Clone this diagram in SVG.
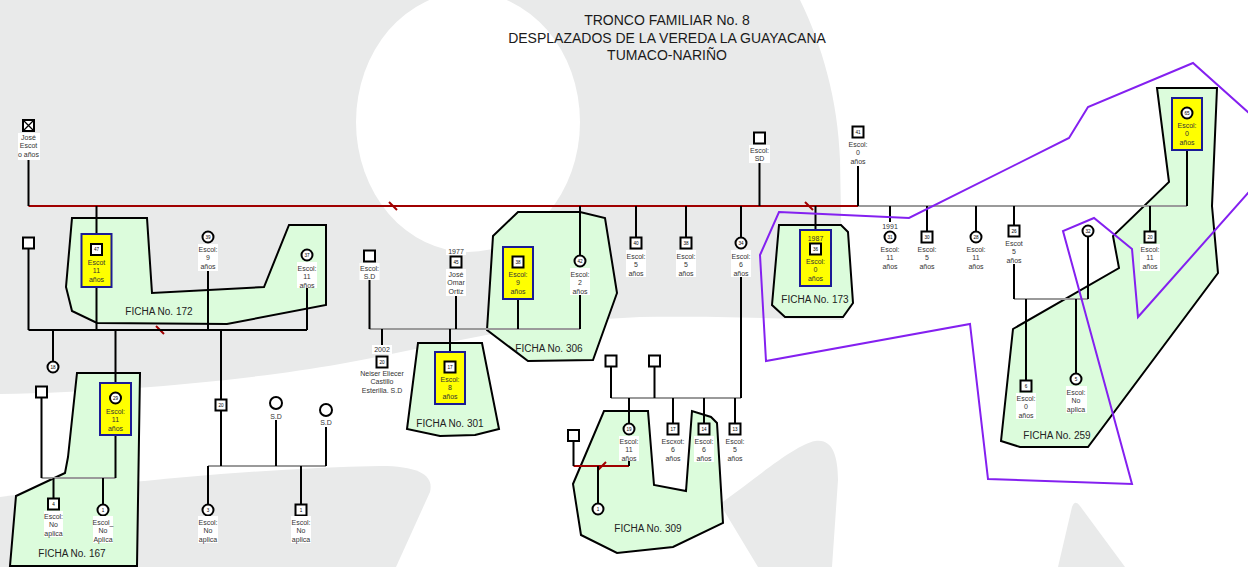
<svg xmlns="http://www.w3.org/2000/svg" width="1248" height="567" viewBox="0 0 1248 567">
<style>
text{font-family:"Liberation Sans",Arial,sans-serif}
.g{fill:#e9eaea}
.fi{fill:#dcfcdc;stroke:#000;stroke-width:2}
.ft{font-size:10px;fill:#222;text-anchor:middle}
.tt{font-size:14px;fill:#1a1a1a;text-anchor:middle}
.lb{font-size:7px;fill:#333;text-anchor:middle}
.num{font-size:4.6px;fill:#000;text-anchor:middle}
.lbg{fill:#fff}
.sq{fill:#fff;stroke:#000;stroke-width:2}
.yb{fill:#ffff00;stroke:#1b1b96;stroke-width:2}
.bl{fill:none;stroke:#000;stroke-width:2}
.gl{fill:none;stroke:#9a9a9a;stroke-width:2}
.rl{fill:none;stroke:#a00000;stroke-width:2}
.pu{fill:none;stroke:#8420f0;stroke-width:2;stroke-linejoin:miter}
</style>
<g id="background">
<rect x="0" y="0" width="1248" height="567" fill="#fff"/>
<path class="g" d="M0,0 L800,0 C822,45 838,100 840,160 L843,320 C760,318 700,316 640,317 C520,322 420,350 340,364 C250,380 120,392 0,394 Z"/>
<ellipse cx="468" cy="122" rx="112" ry="130" fill="#fff"/>
<path class="g" d="M0,497 C100,485 250,468 380,466 C420,466 434,476 430,492 L396,567 L0,567 Z"/>
<path class="g" d="M720,504 C760,475 795,445 815,441 C832,438 838,455 838,480 L832,567 L758,567 Z"/>
<path class="g" d="M1058,567 L1072,507 Q1075,499 1080,506 L1125,567 Z"/>
</g>
<g id="title">
<text class="tt" x="667" y="25">TRONCO FAMILIAR No. 8</text>
<text class="tt" x="667" y="43">DESPLAZADOS DE LA VEREDA LA GUAYACANA</text>
<text class="tt" x="667" y="60">TUMACO-NARIÑO</text>
</g>
<g id="fichas">
<g id="ficha-172"><polygon class="fi" points="72,218 147,218 152,293 264,287 289,225 326,225 326,305 227,324 97,323 72,311 66,287"/><text class="ft" x="159" y="314.5">FICHA No. 172</text></g>
<g id="ficha-167"><polygon class="fi" points="77,373 140,373 137,566 10,566 16,496 65,473 68,457"/><text class="ft" x="72" y="556.5">FICHA No. 167</text></g>
<g id="ficha-301"><polygon class="fi" points="418,343 482,343 499,429 475,435 440,436 407,429"/><text class="ft" x="450" y="426.5">FICHA No. 301</text></g>
<g id="ficha-306"><polygon class="fi" points="493,236 518,212 580,212 605,218 617,293 593,360 528,361 487,330"/><text class="ft" x="549" y="351.5">FICHA No. 306</text></g>
<g id="ficha-173"><polygon class="fi" points="779,225 841,225 848,232 853,303 843,317 785,317 772,305"/><text class="ft" x="815" y="302.5">FICHA No. 173</text></g>
<g id="ficha-309"><polygon class="fi" points="604,411 648,411 654,485 686,491 692,411 711,417 717,423 723,523 673,547 617,553 581,535 573,484"/><text class="ft" x="648" y="531.5">FICHA No. 309</text></g>
<g id="ficha-259"><polygon class="fi" points="1157,88 1217,88 1212,206 1218,273 1088,447 1020,447 1001,441 1013,329 1119,268 1113,236 1169,182"/><text class="ft" x="1057" y="438.5">FICHA No. 259</text></g>
</g>
<g id="connectors">
<path class="gl" d="M858,206H1187 M41.5,478H115.5 M208,466H326 M369.5,329H580 M1014,299H1088 M611,398H741"/>
<path class="rl" d="M28.5,206H858 M573.5,466H629"/>
<path class="rl" d="M389,202L397,210 M156,326L164,334 M805,202L813,210 M598,470L606,462"/>
<path class="bl" d="M28.5,160V206 M96.5,206V330 M28.5,248V330 M28.5,330H307 M208,271V330 M307,288V330 M53,330V362 M115.5,330V478 M221,330V466 M41.5,397V478 M53.5,478V499 M103,478V505 M276,420V466 M326,427V466 M208,466V505 M301,466V505 M369.5,280V329 M456,296V329 M518,299V329 M580,206V256 M580,295V329 M382,329V345 M450,329V352 M636,206V238 M686,206V238 M741,206V238 M741,277V398 M759.5,163V206 M858,166V206 M815.5,206V230 M890,206V222 M927,206V232 M976,206V232 M1014,206V226 M1014,264V299 M1150,206V232 M1187,150V206 M1088,236V299 M1026,299V381 M1076,299V374 M611,366V398 M654.5,366V398 M629,398V424 M629,461V466 M673,398V424 M704,398V424 M735,398V424 M573.5,441V466 M598,466V504"/>
<path class="pu" d="M779,212 L909,218 L1069,138 L1088,107 L1193,63 L1288,148 L1138,317 L1132,249 L1094,218 L1063,231 L1132,484 L988,479 L970,324 L766,361 L760,255 Z"/>
</g>
<g id="nodes">
<g id="n-jose"><rect class="sq" x="23" y="120" width="11" height="11"/><path d="M24,121L33,130M33,121L24,130" stroke="#000" stroke-width="1.3"/><rect class="lbg" x="18" y="133" width="22" height="27"/><text class="lb" x="28.5" y="139.5"><tspan x="28.5">José</tspan><tspan x="28.5" dy="8.5">Escot</tspan><tspan x="28.5" dy="8.5">o años</tspan></text></g>
<g id="n-47"><rect class="yb" x="81.5" y="234" width="30" height="53"/><rect class="sq" x="91" y="244" width="11" height="11"/><text class="num" x="96.5" y="251.2">47</text><text class="lb" x="96.5" y="264.5"><tspan x="96.5">Escot</tspan><tspan x="96.5" dy="8.5">11</tspan><tspan x="96.5" dy="8.5">años</tspan></text></g>
<g id="n-sq-a"><rect class="sq" x="23" y="237.5" width="11" height="11"/></g>
<g id="n-39"><circle class="sq" cx="208" cy="237" r="5.5"/><text class="num" x="208" y="238.7">39</text><rect class="lbg" x="198" y="244" width="20" height="27"/><text class="lb" x="208" y="251.5"><tspan x="208">Escol:</tspan><tspan x="208" dy="8.5">9</tspan><tspan x="208" dy="8.5">años</tspan></text></g>
<g id="n-37"><circle class="sq" cx="307" cy="255" r="5.5"/><text class="num" x="307" y="256.7">37</text><rect class="lbg" x="297" y="262" width="20" height="26"/><text class="lb" x="307" y="270.5"><tspan x="307">Escol:</tspan><tspan x="307" dy="8.5">11</tspan><tspan x="307" dy="8.5">años</tspan></text></g>
<g id="n-18"><circle class="sq" cx="53" cy="367" r="5.5"/><text class="num" x="53" y="368.7">18</text></g>
<g id="n-sq-b"><rect class="sq" x="36" y="386.5" width="11" height="11"/></g>
<g id="n-29"><rect class="yb" x="100" y="383" width="31" height="52"/><circle class="sq" cx="115.5" cy="398" r="5.5"/><text class="num" x="115.5" y="399.7">29</text><text class="lb" x="115.5" y="413.5"><tspan x="115.5">Escol:</tspan><tspan x="115.5" dy="8.5">11</tspan><tspan x="115.5" dy="8.5">años</tspan></text></g>
<g id="n-4"><rect class="sq" x="48" y="498.5" width="11" height="11"/><text class="num" x="53.5" y="505.7">4</text><rect class="lbg" x="44" y="511" width="19" height="26"/><text class="lb" x="53.5" y="518.5"><tspan x="53.5">Escol:</tspan><tspan x="53.5" dy="8.5">No</tspan><tspan x="53.5" dy="8.5">aplica</tspan></text></g>
<g id="n-1a"><circle class="sq" cx="103" cy="510" r="5.5"/><text class="num" x="103" y="511.7">1</text><rect class="lbg" x="93" y="516" width="20" height="27"/><text class="lb" x="103" y="524.5"><tspan x="103">Escol_</tspan><tspan x="103" dy="8.5">No</tspan><tspan x="103" dy="8.5">Aplica</tspan></text></g>
<g id="n-20a"><rect class="sq" x="215.5" y="399.5" width="11" height="11"/><text class="num" x="221" y="406.7">20</text></g>
<g id="n-sd1"><circle class="sq" cx="276" cy="403" r="6"/><rect class="lbg" x="269" y="412" width="14" height="8"/><text class="lb" x="276" y="418.5">S.D</text></g>
<g id="n-sd2"><circle class="sq" cx="326" cy="410" r="6"/><rect class="lbg" x="319" y="419" width="14" height="8"/><text class="lb" x="326" y="424.5">S.D</text></g>
<g id="n-3"><circle class="sq" cx="208" cy="510" r="5.5"/><text class="num" x="208" y="511.7">3</text><rect class="lbg" x="198" y="516" width="20" height="27"/><text class="lb" x="208" y="524.5"><tspan x="208">Escol:</tspan><tspan x="208" dy="8.5">No</tspan><tspan x="208" dy="8.5">aplica</tspan></text></g>
<g id="n-1b"><rect class="sq" x="295.5" y="504.5" width="11" height="11"/><text class="num" x="301" y="511.7">1</text><rect class="lbg" x="291" y="516" width="20" height="27"/><text class="lb" x="301" y="524.5"><tspan x="301">Escol:</tspan><tspan x="301" dy="8.5">No</tspan><tspan x="301" dy="8.5">aplica</tspan></text></g>
<g id="n-sq-c"><rect class="sq" x="364" y="250.5" width="11" height="11"/><rect class="lbg" x="359.5" y="263" width="20" height="17"/><text class="lb" x="369.5" y="270.5"><tspan x="369.5">Escol:</tspan><tspan x="369.5" dy="8.5">S.D</tspan></text></g>
<g id="n-45"><rect class="lbg" x="446" y="246" width="20" height="9"/><text class="lb" x="456" y="253.5">1977</text><rect class="sq" x="450.5" y="256.5" width="11" height="11"/><text class="num" x="456" y="263.7">45</text><rect class="lbg" x="446" y="269" width="20" height="27"/><text class="lb" x="456" y="276.5"><tspan x="456">José</tspan><tspan x="456" dy="8.5">Omar</tspan><tspan x="456" dy="8.5">Ortiz</tspan></text></g>
<g id="n-38a"><rect class="yb" x="503" y="247" width="30" height="52"/><rect class="sq" x="512.5" y="256.5" width="11" height="11"/><text class="num" x="518" y="263.7">38</text><text class="lb" x="518" y="276.5"><tspan x="518">Escol:</tspan><tspan x="518" dy="8.5">9</tspan><tspan x="518" dy="8.5">años</tspan></text></g>
<g id="n-42"><circle class="sq" cx="580" cy="261" r="5.5"/><text class="num" x="580" y="262.7">42</text><rect class="lbg" x="570" y="268" width="20" height="27"/><text class="lb" x="580" y="276.5"><tspan x="580">Escol:</tspan><tspan x="580" dy="8.5">2</tspan><tspan x="580" dy="8.5">años</tspan></text></g>
<g id="n-20b"><rect class="lbg" x="372" y="345" width="20" height="9"/><text class="lb" x="382" y="351.5">2002</text><rect class="sq" x="376.5" y="356.5" width="11" height="11"/><text class="num" x="382" y="363.7">20</text><text class="lb" x="382" y="375.5"><tspan x="382">Neiser Eliecer</tspan><tspan x="382" dy="8.5">Castillo</tspan><tspan x="382" dy="8.5">Esterilla. S.D</tspan></text></g>
<g id="n-17a"><rect class="yb" x="435" y="352" width="30" height="52"/><rect class="sq" x="444.5" y="361.5" width="11" height="11"/><text class="num" x="450" y="368.7">17</text><text class="lb" x="450" y="381.5"><tspan x="450">Escol:</tspan><tspan x="450" dy="8.5">8</tspan><tspan x="450" dy="8.5">años</tspan></text></g>
<g id="n-40"><rect class="sq" x="630.5" y="237.5" width="11" height="11"/><text class="num" x="636" y="244.7">40</text><rect class="lbg" x="626" y="250" width="20" height="27"/><text class="lb" x="636" y="258.5"><tspan x="636">Escol:</tspan><tspan x="636" dy="8.5">5</tspan><tspan x="636" dy="8.5">años</tspan></text></g>
<g id="n-38b"><rect class="sq" x="680.5" y="237.5" width="11" height="11"/><text class="num" x="686" y="244.7">38</text><rect class="lbg" x="676" y="250" width="20" height="27"/><text class="lb" x="686" y="258.5"><tspan x="686">Escol:</tspan><tspan x="686" dy="8.5">5</tspan><tspan x="686" dy="8.5">años</tspan></text></g>
<g id="n-34"><circle class="sq" cx="741" cy="243" r="5.5"/><text class="num" x="741" y="244.7">34</text><rect class="lbg" x="731" y="250" width="20" height="27"/><text class="lb" x="741" y="258.5"><tspan x="741">Escol:</tspan><tspan x="741" dy="8.5">6</tspan><tspan x="741" dy="8.5">años</tspan></text></g>
<g id="n-sq-d"><rect class="sq" x="754" y="132.5" width="11" height="11"/><rect class="lbg" x="749" y="145" width="21" height="18"/><text class="lb" x="759.5" y="152.5"><tspan x="759.5">Escol:</tspan><tspan x="759.5" dy="8.5">SD</tspan></text></g>
<g id="n-41"><rect class="sq" x="852.5" y="126.5" width="11" height="11"/><text class="num" x="858" y="133.7">41</text><rect class="lbg" x="848" y="139" width="20" height="27"/><text class="lb" x="858" y="146.5"><tspan x="858">Escol:</tspan><tspan x="858" dy="8.5">0</tspan><tspan x="858" dy="8.5">años</tspan></text></g>
<g id="n-36"><rect class="yb" x="800" y="230" width="31" height="56"/><text class="lb" x="815.5" y="240.5">1987</text><rect class="sq" x="810" y="243.5" width="11" height="11"/><text class="num" x="815.5" y="250.7">36</text><text class="lb" x="815.5" y="263.5"><tspan x="815.5">Escol:</tspan><tspan x="815.5" dy="8.5">0</tspan><tspan x="815.5" dy="8.5">años</tspan></text></g>
<g id="n-sq-e"><rect class="sq" x="605.5" y="355.5" width="11" height="11"/></g>
<g id="n-sq-f"><rect class="sq" x="649" y="355.5" width="11" height="11"/></g>
<g id="n-19"><circle class="sq" cx="629" cy="429" r="5.5"/><text class="num" x="629" y="430.7">19</text><rect class="lbg" x="619" y="436" width="20" height="25"/><text class="lb" x="629" y="443.5"><tspan x="629">Escol:</tspan><tspan x="629" dy="8.5">11</tspan><tspan x="629" dy="8.5">años</tspan></text></g>
<g id="n-17b"><rect class="sq" x="667.5" y="423.5" width="11" height="11"/><text class="num" x="673" y="430.7">17</text><text class="lb" x="673" y="443.5"><tspan x="673">Escxot:</tspan><tspan x="673" dy="8.5">6</tspan><tspan x="673" dy="8.5">años</tspan></text></g>
<g id="n-14"><rect class="sq" x="698.5" y="423.5" width="11" height="11"/><text class="num" x="704" y="430.7">14</text><rect class="lbg" x="694" y="436" width="20" height="26"/><text class="lb" x="704" y="443.5"><tspan x="704">Escol:</tspan><tspan x="704" dy="8.5">6</tspan><tspan x="704" dy="8.5">años</tspan></text></g>
<g id="n-13"><rect class="sq" x="729.5" y="423.5" width="11" height="11"/><text class="num" x="735" y="430.7">13</text><text class="lb" x="735" y="443.5"><tspan x="735">Escol:</tspan><tspan x="735" dy="8.5">5</tspan><tspan x="735" dy="8.5">años</tspan></text></g>
<g id="n-sq-g"><rect class="sq" x="568" y="430" width="11" height="11"/></g>
<g id="n-1c"><circle class="sq" cx="598" cy="509" r="5.5"/><text class="num" x="598" y="510.7">1</text></g>
<g id="n-31"><text class="lb" x="890" y="228.5">1991</text><circle class="sq" cx="890" cy="237" r="5.5"/><text class="num" x="890" y="238.7">31</text><text class="lb" x="890" y="251.5"><tspan x="890">Escol:</tspan><tspan x="890" dy="8.5">11</tspan><tspan x="890" dy="8.5">años</tspan></text></g>
<g id="n-30"><rect class="sq" x="921.5" y="231.5" width="11" height="11"/><text class="num" x="927" y="238.7">30</text><text class="lb" x="927" y="251.5"><tspan x="927">Escol:</tspan><tspan x="927" dy="8.5">5</tspan><tspan x="927" dy="8.5">años</tspan></text></g>
<g id="n-28"><circle class="sq" cx="976" cy="237" r="5.5"/><text class="num" x="976" y="238.7">28</text><text class="lb" x="976" y="251.5"><tspan x="976">Escol:</tspan><tspan x="976" dy="8.5">11</tspan><tspan x="976" dy="8.5">años</tspan></text></g>
<g id="n-26"><rect class="sq" x="1008.5" y="225.5" width="11" height="11"/><text class="num" x="1014" y="232.7">26</text><rect class="lbg" x="1004" y="238" width="20" height="26"/><text class="lb" x="1014" y="245.5"><tspan x="1014">Escot</tspan><tspan x="1014" dy="8.5">5</tspan><tspan x="1014" dy="8.5">años</tspan></text></g>
<g id="n-32"><circle class="sq" cx="1088" cy="231" r="5.5"/><text class="num" x="1088" y="232.7">32</text></g>
<g id="n-20c"><rect class="sq" x="1144.5" y="231.5" width="11" height="11"/><text class="num" x="1150" y="238.7">20</text><rect class="lbg" x="1140" y="244" width="20" height="27"/><text class="lb" x="1150" y="251.5"><tspan x="1150">Escol:</tspan><tspan x="1150" dy="8.5">11</tspan><tspan x="1150" dy="8.5">años</tspan></text></g>
<g id="n-65"><rect class="yb" x="1172" y="98" width="30" height="52"/><circle class="sq" cx="1187" cy="113" r="5.5"/><text class="num" x="1187" y="114.7">65</text><text class="lb" x="1187" y="127.5"><tspan x="1187">Escol:</tspan><tspan x="1187" dy="8.5">0</tspan><tspan x="1187" dy="8.5">años</tspan></text></g>
<g id="n-6"><rect class="sq" x="1020.5" y="380.5" width="11" height="11"/><text class="num" x="1026" y="387.7">6</text><rect class="lbg" x="1016" y="393" width="20" height="26"/><text class="lb" x="1026" y="400.5"><tspan x="1026">Escol:</tspan><tspan x="1026" dy="8.5">0</tspan><tspan x="1026" dy="8.5">años</tspan></text></g>
<g id="n-5"><circle class="sq" cx="1076" cy="379" r="5.5"/><text class="num" x="1076" y="380.7">5</text><rect class="lbg" x="1066" y="386" width="21" height="27"/><text class="lb" x="1076" y="394.5"><tspan x="1076">Escol:</tspan><tspan x="1076" dy="8.5">No</tspan><tspan x="1076" dy="8.5">aplica</tspan></text></g>
</g>
</svg>
